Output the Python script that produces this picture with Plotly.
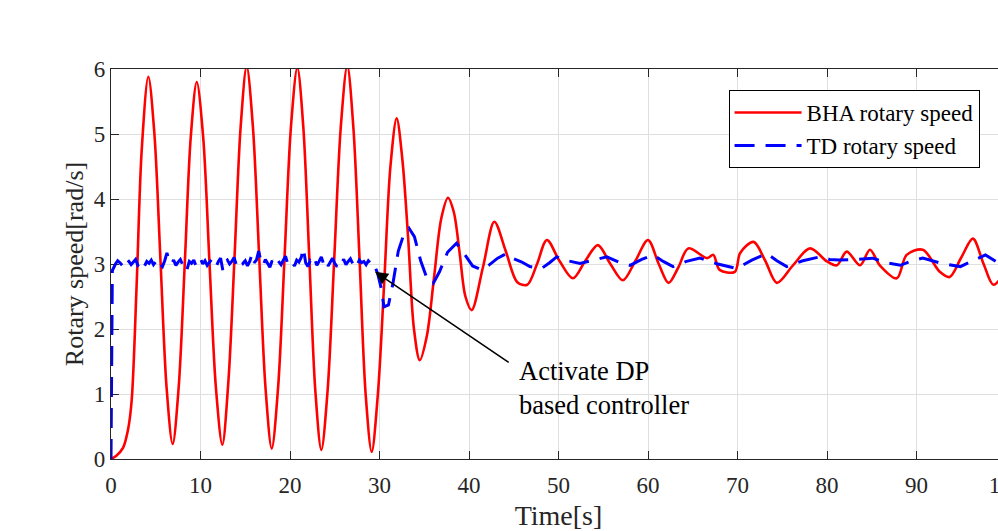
import plotly.graph_objects as go

# BHA rotary speed (red, solid)
bha_t = [0, 0.6, 1.34, 1.9, 2.31, 2.87, 3.43, 4.17, 4.85, 5.53,
         6.21, 6.89, 7.56, 8.24, 8.91, 9.58, 10.3, 11.01, 11.72, 12.44,
         13.12, 13.8, 14.48, 15.16, 15.86, 16.56, 17.26, 17.96, 18.67, 19.39,
         20.1, 20.82, 21.49, 22.16, 22.83, 23.5, 24.2, 24.95, 25.67, 26.4,
         27.08, 27.77, 28.45, 29.13, 29.82, 30.52, 31.22, 31.92, 32.56, 33.2,
         33.85, 34.5, 35.3, 36.1, 36.9, 37.65, 38.3, 38.97, 39.6, 40.3,
         41.56, 42.83, 44.1, 45.4, 46.5, 47.6, 48.7, 50.1, 51.6, 53.0,
         54.4, 55.8, 57.2, 58.6, 60.0, 61.2, 62.3, 63.4, 64.5, 66.6,
         67.3, 68.0, 69.7, 70.3, 71.8, 73.1, 74.4, 76.2, 78.1, 80.0,
         81.1, 82.2, 83.7, 84.8, 85.9, 87.8, 88.9, 90.7, 92.6, 93.7,
         95.0, 96.3, 97.5, 98.6, 100.0]
bha_y = [0, 0.05, 0.17, 0.45, 0.9, 2.7, 4.75, 5.88, 5.0, 3.05,
         1.1, 0.23, 1.1, 3.0, 4.95, 5.80, 4.95, 3.0, 1.1, 0.22,
         1.2, 3.1, 5.1, 6.04, 5.1, 3.1, 1.1, 0.16, 1.1, 3.1,
         5.1, 6.02, 5.1, 3.08, 1.05, 0.14, 1.05, 3.1, 5.1, 6.05,
         5.1, 3.08, 1.0, 0.11, 1.0, 2.7, 4.5, 5.24, 4.6, 3.4,
         2.0, 1.52, 1.9, 2.8, 3.7, 4.02, 3.8, 3.15, 2.5, 2.29,
         2.95, 3.65, 3.2, 2.72, 2.68, 3.0, 3.37, 3.05, 2.78, 3.05,
         3.29, 3.0, 2.75, 3.05, 3.37, 3.0, 2.71, 2.95, 3.24, 3.09,
         3.14, 2.91, 2.88, 3.17, 3.34, 3.05, 2.71, 2.98, 3.24, 3.04,
         2.98, 3.19, 2.98, 3.22, 2.98, 2.78, 3.14, 3.22, 2.88, 2.80,
         3.1, 3.39, 3.0, 2.68, 2.9]

# TD rotary speed (blue, dashed): start-up, noisy hold, then the DP-controlled part
td_start_t = [0, 0.15]
td_start_y = [0, 2.9]

td_hold_t = [0.5, 0.75, 1.0, 1.25, 1.5, 1.75, 2.0, 2.25,
             2.5, 2.75, 3.0, 3.25, 3.5, 3.75, 4.0, 4.25,
             4.5, 4.75, 5.0, 5.25, 5.5, 5.75, 6.0, 6.25,
             6.5, 6.75, 7.0, 7.25, 7.5, 7.75, 8.0, 8.25,
             8.5, 8.75, 9.0, 9.25, 9.5, 9.75, 10.0, 10.25,
             10.5, 10.75, 11.0, 11.25, 11.5, 11.75, 12.0, 12.25,
             12.5, 12.75, 13.0, 13.25, 13.5, 13.75, 14.0, 14.25,
             14.5, 14.75, 15.0, 15.25, 15.5, 15.75, 16.0, 16.25,
             16.5, 16.75, 17.0, 17.25, 17.5, 17.75, 18.0, 18.25,
             18.5, 18.75, 19.0, 19.25, 19.5, 19.75, 20.0, 20.25,
             20.5, 20.75, 21.0, 21.25, 21.5, 21.75, 22.0, 22.25,
             22.5, 22.75, 23.0, 23.25, 23.5, 23.75, 24.0, 24.25,
             24.5, 24.75, 25.0, 25.25, 25.5, 25.75, 26.0, 26.25,
             26.5, 26.75, 27.0, 27.25, 27.5, 27.75, 28.0, 28.25,
             28.5, 28.75, 29.0, 29.25, 29.5]
td_hold_y = [3.00, 3.05, 3.02, 2.98, 3.06, 3.01, 3.04, 2.99,
             3.03, 3.07, 2.98, 3.02, 3.05, 2.97, 3.04, 3.01,
             3.06, 2.99, 3.03, 3.08, 3.00, 2.96, 3.05, 3.17,
             3.04, 3.00, 3.06, 2.98, 3.03, 3.07, 2.99, 3.02,
             2.92, 3.04, 3.01, 3.06, 2.97, 3.03, 3.08, 3.00,
             3.05, 2.98, 3.02, 3.07, 3.01, 2.96, 3.04, 3.09,
             2.90, 3.03, 3.06, 3.00, 3.04, 3.10, 2.99, 3.03,
             3.07, 3.01, 3.05, 2.97, 3.04, 3.15, 3.02, 3.06,
             3.20, 3.04, 2.98, 3.07, 3.02, 2.95, 3.05, 3.01,
             3.08, 3.03, 2.99, 3.06, 3.12, 3.00, 3.05, 3.02,
             2.97, 3.06, 3.03, 3.10, 3.24, 3.02, 2.96, 3.05,
             3.01, 3.08, 2.98, 3.04, 3.11, 3.00, 3.06, 2.97,
             3.03, 3.09, 3.01, 2.96, 3.05, 3.02, 3.07, 2.99,
             3.04, 3.08, 3.01, 3.05, 2.98, 3.06, 3.02, 3.04,
             2.99, 3.05, 3.01, 3.03, 2.96]

td_dp_t = [29.8, 30.2, 30.5, 31.0, 31.5, 32.1, 32.7, 33.3, 33.9, 34.6,
           35.3, 36.0, 36.7, 37.6, 38.6, 39.5, 40.4, 41.4, 42.3, 43.2,
           44.2, 45.0, 45.9, 46.8, 48.1, 49.0, 49.8, 51.0, 52.4, 53.9,
           55.4, 56.7, 58.0, 59.3, 60.6, 61.7, 62.8, 64.3, 65.8, 67.8,
           69.9, 71.6, 73.3, 74.4, 75.5, 77.3, 79.2, 80.3, 81.4, 83.2,
           85.1, 86.6, 88.2, 89.5, 90.7, 92.8, 94.9, 96.3, 97.7, 99.0,
           100.0]
td_dp_y = [2.85, 2.62, 2.34, 2.37, 2.70, 3.20, 3.45, 3.55, 3.42, 3.05,
           2.78, 2.70, 2.88, 3.18, 3.32, 3.15, 2.97, 2.91, 2.99, 3.09,
           3.16, 3.08, 3.03, 2.96, 2.93, 3.02, 3.11, 3.05, 3.01, 3.06,
           3.11, 3.03, 2.98, 3.07, 3.14, 3.04, 2.96, 3.04, 3.09, 3.00,
           2.93, 3.06, 3.16, 3.05, 2.96, 3.05, 3.11, 3.07, 3.06, 3.07,
           3.09, 3.02, 2.98, 3.05, 3.09, 3.01, 2.96, 3.05, 3.14, 3.03,
           2.99]

td_t = td_start_t + td_hold_t + td_dp_t
td_y = td_start_y + td_hold_y + td_dp_y

x_ticks = [0, 10, 20, 30, 40, 50, 60, 70, 80, 90, 100]
y_ticks = [0, 1, 2, 3, 4, 5, 6]

SERIF = "Liberation Serif, Times New Roman, serif"
AX = "#262626"
GRID = "#dfdfdf"

fig = go.Figure()
fig.add_trace(go.Scatter(
    x=bha_t, y=bha_y, mode="lines", name="BHA rotary speed",
    line=dict(color="#ff0000", width=2.6, shape="spline", smoothing=0.9),
))
fig.add_trace(go.Scatter(
    x=td_t, y=td_y, mode="lines", name="TD rotary speed",
    line=dict(color="#0000ff", width=3, dash="20px,11px"),
))

# arrow to the switching instant + its label
fig.add_annotation(x=29.5, y=2.88, ax=44.6, ay=1.47, axref="x", ayref="y",
                   text="", showarrow=True, arrowhead=2, arrowsize=1.6,
                   arrowwidth=1.6, arrowcolor="black")
fig.add_annotation(x=45.4, y=1.1, xanchor="left", yanchor="middle", align="left",
                   text="Activate DP<br>based controller", showarrow=False,
                   font=dict(family=SERIF, size=26.5, color="black"))

# the original figure runs a bit past the window's right edge (x = 100 is cut off)
fig.update_layout(
    width=1030, height=531,
    margin=dict(l=111, r=24, t=69, b=72),
    paper_bgcolor="white", plot_bgcolor="white",
    font=dict(family=SERIF, size=23, color=AX),
    xaxis=dict(range=[0, 100], tickvals=x_ticks, ticks="inside", ticklen=8,
               tickwidth=1.3, tickcolor=AX, showline=True, linecolor=AX,
               linewidth=1.4, mirror="ticks", showgrid=True, gridcolor=GRID,
               gridwidth=1, zeroline=False, layer="below traces",
               ticklabelstandoff=5, automargin=False,
               title=dict(text="Time[s]", font=dict(size=28), standoff=12)),
    yaxis=dict(range=[0, 6], tickvals=y_ticks, ticks="inside", ticklen=8,
               tickwidth=1.3, tickcolor=AX, showline=True, linecolor=AX,
               linewidth=1.4, showgrid=True, gridcolor=GRID, gridwidth=1,
               zeroline=False, layer="below traces", automargin=False,
               title=dict(text="Rotary speed[rad/s]", font=dict(size=26), standoff=2)),
    legend=dict(x=0.690, y=0.946, xanchor="left", yanchor="top",
                bgcolor="white", bordercolor="black", borderwidth=1,
                font=dict(family=SERIF, size=23, color="black"),
                itemwidth=67, tracegroupgap=0),
    showlegend=True,
)

fig.write_html("out.html", config={"displayModeBar": False},
               post_script="document.body.style.margin='0';"
                           "document.body.style.overflow='hidden';")
